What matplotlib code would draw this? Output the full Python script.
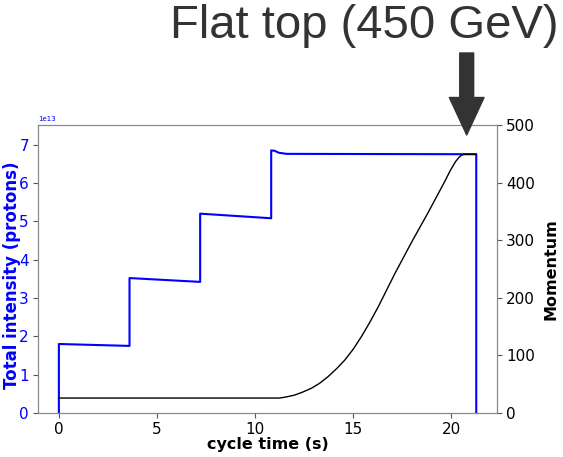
import matplotlib
matplotlib.use("Agg")
import matplotlib.pyplot as plt

# Intensity (blue) – step-wise injections, in units of protons
t_int = [0.0, 0.0, 3.6, 3.6, 7.2, 7.2, 10.82, 10.82, 11.0, 11.2, 11.6, 21.27, 21.27]
intensity = [0.0, 1.80e13, 1.75e13, 3.52e13, 3.42e13, 5.20e13, 5.08e13, 6.85e13, 6.84e13, 6.79e13, 6.76e13, 6.75e13, 0.0]

# Momentum (black) in GeV/c
t_mom = [0.0, 11.25, 11.6, 12.0, 12.4, 12.87, 13.3, 13.71, 14.15, 14.57, 15.0, 15.42, 15.85,
         16.28, 17.13, 17.99, 18.84, 19.70, 19.95, 20.21, 20.4, 20.55, 20.7, 21.27]
momentum = [26, 26, 28, 31, 36, 43, 52, 63, 77, 92, 111, 133, 158,
            185, 243, 298, 350, 405, 422, 437, 445, 449, 450, 450]

x_ticks = [0, 5, 10, 15, 20]
left_ticks = [0, 1e13, 2e13, 3e13, 4e13, 5e13, 6e13, 7e13]
right_ticks = [0, 100, 200, 300, 400, 500]

fig = plt.figure(figsize=(5.63, 4.57), dpi=100)
ax = fig.add_axes([0.0675, 0.0963, 0.8155, 0.6291])
ax2 = ax.twinx()

ax.plot(t_int, intensity, color='blue', lw=1.5, zorder=3)
ax2.plot(t_mom, momentum, color='black', lw=1.0)

ax.set_ylim(0, 7.5e13)
ax2.set_ylim(0, 500)
ax.set_xticks(x_ticks)
ax.set_yticks(left_ticks)
ax2.set_yticks(right_ticks)

ax.set_xlabel('cycle time (s)', fontsize=11.5, fontweight='bold', labelpad=0)
ax.set_ylabel('Total intensity (protons)', fontsize=12, fontweight='bold', color='blue', labelpad=0)
ax.yaxis.set_label_coords(-0.038, 0.48)
ax2.set_ylabel('Momentum', fontsize=11.5, fontweight='bold', color='black', labelpad=6)

ax.tick_params(axis='y', labelcolor='blue', labelsize=11, color='#555555', pad=3)
ax.tick_params(axis='x', labelsize=11, color='#555555', pad=3)
ax2.tick_params(axis='y', labelsize=11, color='#555555', pad=3)
ax.yaxis.get_offset_text().set_color('blue')
ax.yaxis.get_offset_text().set_fontsize(5)

for a in (ax, ax2):
    for s in a.spines.values():
        s.set_color('#888888')

fig.text(558 / 563, 1 - 4 / 457, 'Flat top (450 GeV)', ha='right', va='top',
         fontsize=34, color='#333333', family='Liberation Sans')

ax2.annotate('', xy=(466.7 / 563, 1 - 135 / 457), xycoords='figure fraction',
             xytext=(466.7 / 563, 1 - 53 / 457), textcoords='figure fraction',
             arrowprops=dict(facecolor='#333333', edgecolor='#333333', width=10,
                             headwidth=25, headlength=27, shrink=0),
             annotation_clip=False)

fig.savefig('out.png', dpi=100)
